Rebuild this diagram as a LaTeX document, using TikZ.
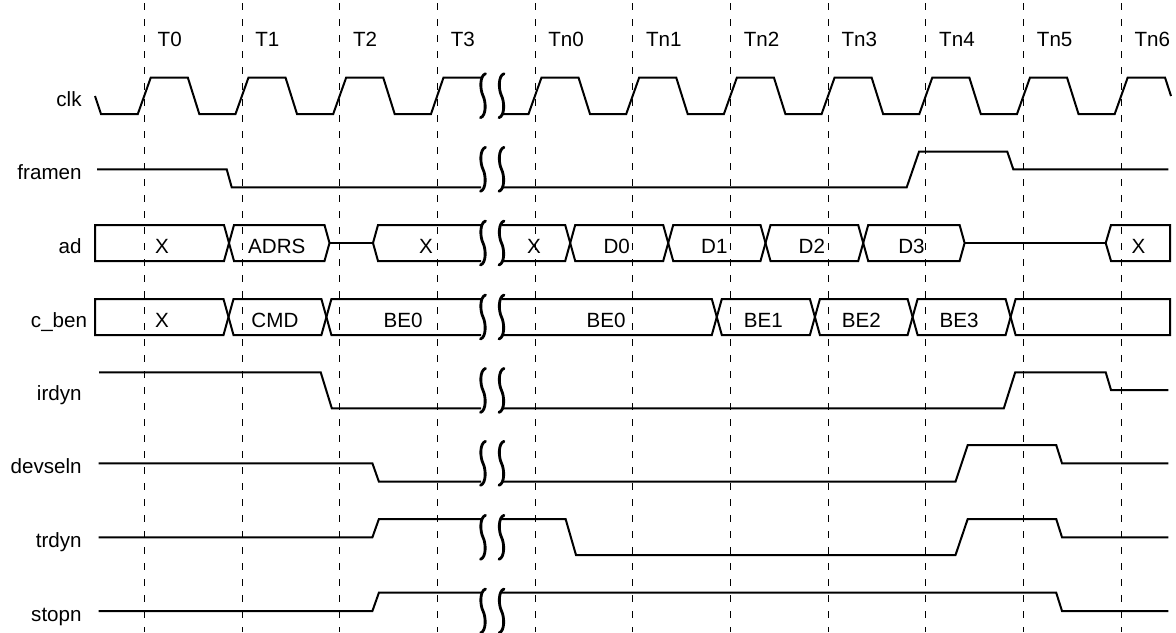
\documentclass[tikz,border=0pt]{standalone}
\usepackage{fontspec}
\setmainfont{Liberation Sans}
\tikzset{>=latex}
\tikzset{
    sig/.style={line width=1pt, line join=miter},
    grid/.style={line width=0.5pt, dash pattern=on 3.5pt off 4.5pt},
    brk/.style={line width=1.4pt, line cap=round},
    lbl/.style={anchor=base east, inner sep=0pt, font=\fontsize{10.3}{12}\selectfont},
    val/.style={anchor=base, inner sep=0pt, font=\fontsize{10.3}{12}\selectfont},
    tick/.style={anchor=base west, inner sep=0pt, font=\fontsize{10.3}{12}\selectfont},
}
\newcommand\sigbreak[1]{% row
    \foreach \c in {483,501.5}{
        \draw[brk] (\c+2.5,#1-22) .. controls (\c-3.5,#1-20) and (\c-3,#1-6) .. (\c,#1)
            .. controls (\c+3,#1+6) and (\c+3.5,#1+20) .. (\c-2.5,#1+22);
    }
}
\newcommand\busval[5]{% left, right, row, name, text
    \draw[sig] (#1,#3) -- (#1+5,#3-18) -- (#2-5,#3-18) -- (#2,#3)
        -- (#2-5,#3+18) -- (#1+5,#3+18) -- cycle;
    \node[val] (#4) at ({(#1+#2)/2-2.5},#3+10.3) {#5};
}

\begin{document}
\begin{tikzpicture}[x=0.5pt, y=-0.5pt, line join=round]
    \useasboundingbox (0,0) rectangle (1176,632);
    % clock grid
    \foreach \d in {144.3,242,339.7,437.4,535,632.7,730.4,828.1,925.8,1023.5,1121.2}
        \draw[grid] (\d,3) -- (\d,632);
    \foreach \d/\t in {144.3/T0,242/T1,339.7/T2,437.4/T3,535/Tn0,632.7/Tn1,730.4/Tn2,
        828.1/Tn3,925.8/Tn4,1023.5/Tn5,1121.2/Tn6}
        \node[tick] (\t) at (\d+13,46) {\t};

    % signal names
    \foreach \r/\n/\s in {95.7/clk/clk,169.3/framen/framen,243/ad/ad,390.4/irdyn/irdyn,
        463.3/devseln/devseln,537.3/trdyn/trdyn,611/stopn/stopn}
        \node[lbl] (\n) at (82,\r+10.5) {\s};
    \node[lbl] (cben) at (87.5,327.5) {c\_ben};

    % clk
    \draw[sig] (95,96) -- (101,114)
        \foreach \d in {144.3,242,339.7}{ -- (\d-6.5,114) -- (\d+6.5,77.5) -- (\d+43.5,77.5) -- (\d+55,114) }
        -- (431,114) -- (443.5,77.5) -- (481,77.5);
    \draw[sig] (502,114)
        \foreach \d in {535,632.7,730.4,828.1,925.8,1023.5}{ -- (\d-6.5,114) -- (\d+6.5,77.5) -- (\d+43.5,77.5) -- (\d+55,114) }
        -- (1114.7,114) -- (1127.7,77.5) -- (1165,77.5) -- (1171,96);

    % framen
    \draw[sig] (97,169.3) -- (226.7,169.3) -- (231.7,187.3) -- (481,187.3);
    \draw[sig] (502,187.3) -- (906.7,187.3) -- (919,151.7) -- (1007.3,151.7)
        -- (1013.3,169.3) -- (1168.4,169.3);

    % ad
    \draw[sig] (224,225) -- (95,225) -- (95,261) -- (224,261) -- (229,243) -- cycle;
    \node[val] (adX0) at (162,253.3) {X};
    \busval{229}{329.5}{243}{adADRS}{ADRS}
    \draw[sig] (329.5,243) -- (373,243);
    \draw[sig] (481,225) -- (378,225) -- (373,243) -- (378,261) -- (481,261);
    \node[val] (adX1) at (426,253.3) {X};
    \draw[sig] (502,225) -- (565.2,225) -- (570.2,243) -- (565.2,261) -- (502,261);
    \node[val] (adX2) at (534,253.3) {X};
    \busval{570.2}{668.2}{243}{adD0}{D0}
    \busval{668.2}{765.5}{243}{adD1}{D1}
    \busval{765.5}{863.2}{243}{adD2}{D2}
    \busval{863.2}{964.6}{243}{adD3}{D3}
    \draw[sig] (964.6,243) -- (1105.7,243);
    \draw[sig] (1111,225) -- (1170,225) -- (1170,261) -- (1111,261) -- (1105.7,243) -- cycle;
    \node[val] (adX3) at (1138.5,253.3) {X};

    % c_ben
    \draw[sig] (223.5,299) -- (95,299) -- (95,335) -- (223.5,335) -- (228.5,317) -- cycle;
    \node[val] (cbX0) at (162,327.3) {X};
    \busval{228.5}{326.4}{317}{cbCMD}{CMD}
    \draw[sig] (481,299) -- (331.4,299) -- (326.4,317) -- (331.4,335) -- (481,335);
    \node[val] (cbBE0a) at (403,327.3) {BE0};
    \draw[sig] (502,299) -- (711.8,299) -- (716.8,317) -- (711.8,335) -- (502,335);
    \node[val] (cbBE0b) at (606,327.3) {BE0};
    \busval{716.8}{814.9}{317}{cbBE1}{BE1}
    \busval{814.9}{912.6}{317}{cbBE2}{BE2}
    \busval{912.6}{1010.6}{317}{cbBE3}{BE3}
    \draw[sig] (1015.6,299) -- (1170,299) -- (1170,335) -- (1015.6,335) -- (1010.6,317) -- cycle;

    % irdyn
    \draw[sig] (99,372.3) -- (320.7,372.3) -- (331.8,408.3) -- (481,408.3);
    \draw[sig] (502,408.3) -- (1003.8,408.3) -- (1015.2,372.3) -- (1105.7,372.3)
        -- (1111,390) -- (1168.4,390);

    % devseln
    \draw[sig] (98.7,463.3) -- (372.4,463.3) -- (378.9,481.7) -- (481,481.7);
    \draw[sig] (502,481.7) -- (955.5,481.7) -- (967.7,445) -- (1056.2,445)
        -- (1062,463.3) -- (1168.4,463.3);

    % trdyn
    \draw[sig] (98.7,537.3) -- (372.4,537.3) -- (378.9,519) -- (481,519);
    \draw[sig] (502,519) -- (565.6,519) -- (576,555) -- (955.5,555) -- (967.7,519)
        -- (1056.2,519) -- (1062,537.3) -- (1168.4,537.3);

    % stopn
    \draw[sig] (98.7,611) -- (372.4,611) -- (378.9,592.7) -- (481,592.7);
    \draw[sig] (502,592.7) -- (1056.2,592.7) -- (1062,611) -- (1168.4,611);

    % breaks
    \foreach \r in {95.7,169.3,243,317,390.4,463.3,537.3,611}{
        \sigbreak{\r}
    }
\end{tikzpicture}
\end{document}
